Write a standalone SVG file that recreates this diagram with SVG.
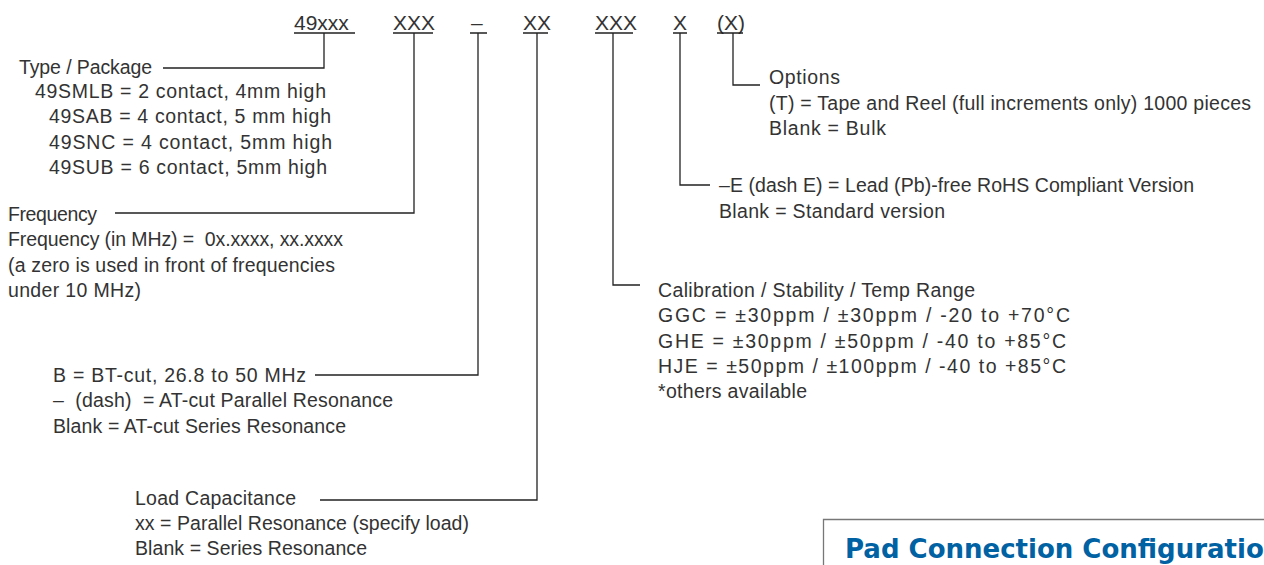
<svg xmlns="http://www.w3.org/2000/svg" width="1264" height="565" viewBox="0 0 1264 565">
<style>
text{font-family:"Liberation Sans","DejaVu Sans",sans-serif;fill:#333;white-space:pre}
.t{font-size:19.5px}
.h{font-size:21px}
.ln{fill:none;stroke:#222;stroke-width:1.3}
.pad{font-family:"DejaVu Sans","Liberation Sans",sans-serif;font-weight:bold;font-size:26px;fill:#0061a3}
</style>
<rect width="1264" height="565" fill="#fff"/>
<g id="code">
<text class="h" x="294" y="30">49xxx</text>
<text class="h" x="393" y="30">XXX</text>
<text class="h" x="471" y="30">–</text>
<text class="h" x="523" y="30">XX</text>
<text class="h" x="595" y="30">XXX</text>
<text class="h" x="673" y="30">X</text>
<text class="h" x="717" y="30">(X)</text>
</g>
<g id="connectors" class="ln">
<path d="M294 33H355M393 33H433M470 33H487M523 33H548M595 33H633M673 33H687M717 33H743"/>
<path d="M324 33V68H163"/>
<path d="M414 33V213H115"/>
<path d="M478 33V375H315"/>
<path d="M537 33V500H320"/>
<path d="M613 33V285H640"/>
<path d="M680 33V185H710"/>
<path d="M733 33V85H760"/>
</g>
<g id="type">
<text class="t" x="19" y="74" textLength="133" lengthAdjust="spacing">Type / Package</text>
<text class="t" x="35" y="98" textLength="291" lengthAdjust="spacing">49SMLB = 2 contact, 4mm high</text>
<text class="t" x="49" y="123" textLength="282" lengthAdjust="spacing">49SAB = 4 contact, 5 mm high</text>
<text class="t" x="49" y="149" textLength="283" lengthAdjust="spacing">49SNC = 4 contact, 5mm high</text>
<text class="t" x="49" y="174" textLength="278" lengthAdjust="spacing">49SUB = 6 contact, 5mm high</text>
</g>
<g id="frequency">
<text class="t" x="8" y="221" textLength="89" lengthAdjust="spacing">Frequency</text>
<text class="t" x="8" y="246" textLength="335" lengthAdjust="spacing">Frequency (in MHz) =  0x.xxxx, xx.xxxx</text>
<text class="t" x="8" y="272" textLength="327" lengthAdjust="spacing">(a zero is used in front of frequencies</text>
<text class="t" x="8" y="297" textLength="133" lengthAdjust="spacing">under 10 MHz)</text>
</g>
<g id="cut">
<text class="t" x="53" y="382" textLength="253" lengthAdjust="spacing">B = BT-cut, 26.8 to 50 MHz</text>
<text class="t" x="53" y="407" textLength="340" lengthAdjust="spacing">–  (dash)  = AT-cut Parallel Resonance</text>
<text class="t" x="53" y="433" textLength="293" lengthAdjust="spacing">Blank = AT-cut Series Resonance</text>
</g>
<g id="load">
<text class="t" x="135" y="505" textLength="161" lengthAdjust="spacing">Load Capacitance</text>
<text class="t" x="135" y="530" textLength="334" lengthAdjust="spacing">xx = Parallel Resonance (specify load)</text>
<text class="t" x="135" y="555" textLength="232" lengthAdjust="spacing">Blank = Series Resonance</text>
</g>
<g id="calibration">
<text class="t" x="658" y="297" textLength="317" lengthAdjust="spacing">Calibration / Stability / Temp Range</text>
<text class="t" x="658" y="322" textLength="412" lengthAdjust="spacing">GGC = ±30ppm / ±30ppm / -20 to +70°C</text>
<text class="t" x="658" y="348" textLength="408" lengthAdjust="spacing">GHE = ±30ppm / ±50ppm / -40 to +85°C</text>
<text class="t" x="658" y="373" textLength="408" lengthAdjust="spacing">HJE = ±50ppm / ±100ppm / -40 to +85°C</text>
<text class="t" x="658" y="398" textLength="149" lengthAdjust="spacing">*others available</text>
</g>
<g id="rohs">
<text class="t" x="719" y="192" textLength="475" lengthAdjust="spacing">–E (dash E) = Lead (Pb)-free RoHS Compliant Version</text>
<text class="t" x="719" y="218" textLength="226" lengthAdjust="spacing">Blank = Standard version</text>
</g>
<g id="options">
<text class="t" x="769" y="84" textLength="71" lengthAdjust="spacing">Options</text>
<text class="t" x="769" y="110" textLength="482" lengthAdjust="spacing">(T) = Tape and Reel (full increments only) 1000 pieces</text>
<text class="t" x="769" y="135" textLength="117" lengthAdjust="spacing">Blank = Bulk</text>
</g>
<g id="pad-box">
<path d="M823.5 565V519.5H1264" fill="none" stroke="#777" stroke-width="1.3"/>
<text class="pad" x="845" y="558">Pad Connection Configuration</text>
</g>
</svg>
